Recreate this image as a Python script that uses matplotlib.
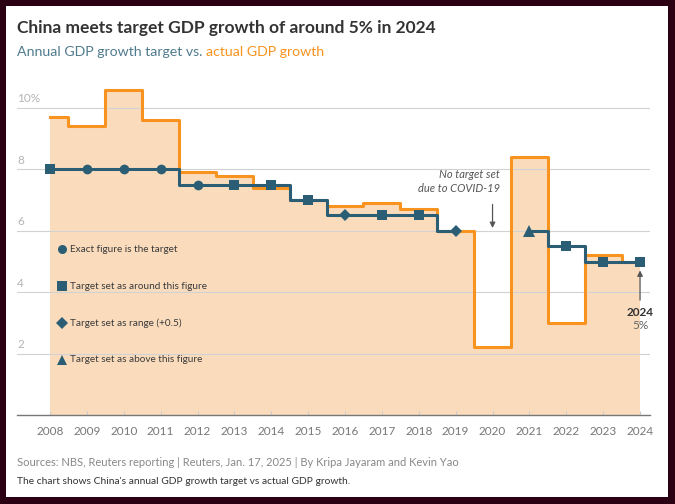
import numpy as np
import matplotlib.pyplot as plt
from matplotlib.patches import Rectangle

plt.rcParams['font.family'] = ['Lato', 'DejaVu Sans']

# data
years = [2008, 2009, 2010, 2011, 2012, 2013, 2014, 2015, 2016,
         2017, 2018, 2019, 2020, 2021, 2022, 2023, 2024]
actual = [9.7, 9.4, 10.6, 9.6, 7.9, 7.8, 7.4, 7.0, 6.8,
          6.9, 6.7, 6.0, 2.2, 8.4, 3.0, 5.2, 5.0]
target = [8.0, 8.0, 8.0, 8.0, 7.5, 7.5, 7.5, 7.0, 6.5,
          6.5, 6.5, 6.0, np.nan, 6.0, 5.5, 5.0, 5.0]
# s = around, o = exact, D = range, ^ = above, '' = none
target_kind = ['s', 'o', 'o', 'o', 'o', 's', 's', 's', 'D',
               's', 's', 'D', '', '^', 's', 's', 's']
yticks = [2, 4, 6, 8, 10]
legend_items = [('o', 'Exact figure is the target'),
                ('s', 'Target set as around this figure'),
                ('D', 'Target set as range (+0.5)'),
                ('^', 'Target set as above this figure')]

ORANGE = '#f7931e'
FILL = '#fadcbd'
TEAL = '#2b5e74'

fig = plt.figure(figsize=(6.75, 5.04), dpi=100)
fig.patch.set_facecolor('#2a0012')
fig.add_artist(Rectangle((6/675, 7/504), 662/675, 491/504, transform=fig.transFigure,
                         facecolor='white', edgecolor='none', zorder=0))

ax = fig.add_axes([17/675, 89/504, 633/675, 337.7/504])
ax.set_facecolor('none')
ax.set_xlim(2007.105, 2024.27)
ax.set_ylim(0, 11)

x = np.array(years)
y = np.array(actual)
t = np.array(target)

ax.fill_between(x, 0, y, step='mid', color=FILL, lw=0, zorder=1)
ax.step(x, y, where='mid', color=ORANGE, lw=2.2, zorder=3)

# gridlines above the fill
for v in yticks:
    ax.axhline(v, color='#d2d2d2', lw=0.8, zorder=2)
    lab = f'{v}%' if v == 10 else str(v)
    ax.text(0, v + 0.12, lab, transform=ax.get_yaxis_transform(), ha='left', va='bottom',
            fontsize=8.5, color='#b5b5b5')

# target line, broken around 2020
gap = years.index(2020)
for seg in (slice(0, gap), slice(gap + 1, None)):
    ax.step(x[seg], t[seg], where='mid', color=TEAL, lw=2.2, zorder=4)
for xi, ti, k in zip(years, target, target_kind):
    if k:
        size = {'o': 7, 's': 6.5, 'D': 6.5, '^': 8}[k]
        ax.plot(xi, ti, marker=k, color=TEAL, ms=size, mew=0, zorder=5)

# in-chart legend
for (m, txt), ly in zip(legend_items, [5.4, 4.2, 3.0, 1.8]):
    ax.plot(2008.33, ly, marker=m, color=TEAL, ms=6.5, mew=0, zorder=5)
    ax.text(2008.55, ly, txt, fontsize=7.2, color='#3a3a3a', va='center', zorder=5)

# annotations
ax.text(2020.2, 7.6, 'No target set\ndue to COVID-19', ha='right', va='center',
        style='italic', fontsize=8, color='#555555', linespacing=1.3)
ax.annotate('', xy=(2020, 6.0), xytext=(2020, 6.95),
            arrowprops=dict(arrowstyle='-|>', color='#555555', lw=0.9, mutation_scale=8))
ax.annotate('', xy=(2024, 4.8), xytext=(2024, 3.65),
            arrowprops=dict(arrowstyle='-|>', color='#555555', lw=0.9, mutation_scale=8))
ax.text(2024, 3.35, '2024', ha='center', va='center', fontsize=8.5,
        fontweight='bold', color='#333333')
ax.text(2024, 2.9, '5%', ha='center', va='center', fontsize=8.5, color='#666666')

# axes styling
for s in ('top', 'right', 'left'):
    ax.spines[s].set_visible(False)
ax.spines['bottom'].set_color('#777777')
ax.spines['bottom'].set_linewidth(1)
ax.set_yticks([])
ax.set_xticks(years)
ax.set_xticklabels([str(v) for v in years])
ax.tick_params(axis='x', direction='in', length=3, color='#cccccc', pad=8,
               labelsize=8.5, labelcolor='#777777')

# titles and footer
fig.text(17/675, 1 - 28/504, 'China meets target GDP growth of around 5% in 2024',
         fontsize=12.5, fontweight='bold', color='#333333', va='center')
t1 = fig.text(17/675, 1 - 52/504, 'Annual GDP growth target vs. ', fontsize=10.2,
              color='#4f7b8e', va='center')
fig.canvas.draw()
bb = t1.get_window_extent()
fig.text(bb.x1 / 675, 1 - 52/504, 'actual GDP growth', fontsize=10.2,
         color=ORANGE, va='center')
fig.text(17/675, 1 - 463/504,
         'Sources: NBS, Reuters reporting | Reuters, Jan. 17, 2025 | By Kripa Jayaram and Kevin Yao',
         fontsize=8, color='#888888', va='center')
fig.text(17/675, 1 - 481/504,
         "The chart shows China's annual GDP growth target vs actual GDP growth.",
         fontsize=7.4, color='#333333', va='center')

fig.savefig('out.png', dpi=100, facecolor=fig.get_facecolor())
